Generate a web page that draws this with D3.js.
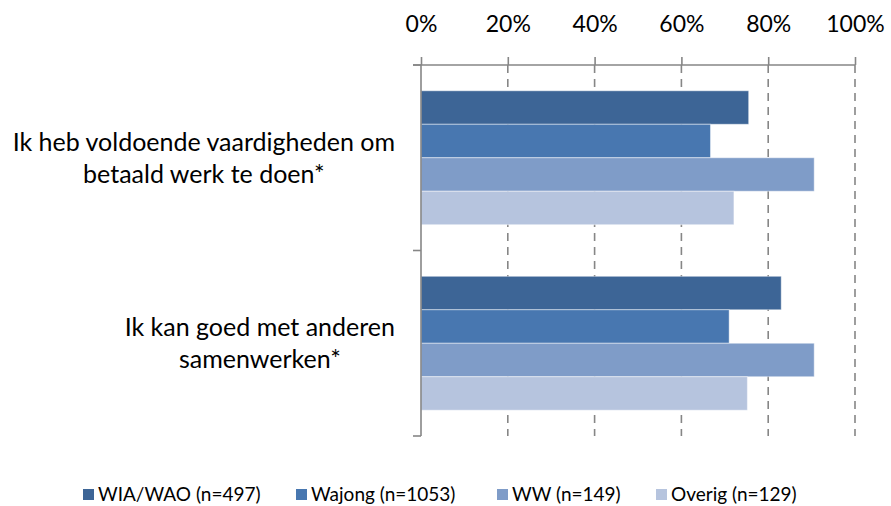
<!DOCTYPE html>
<html>
<head>
<meta charset="utf-8">
<script src="https://cdn.jsdelivr.net/npm/d3@7"></script>
<style>
  html, body { margin: 0; padding: 0; background: #fff; }
  svg { display: block; font-family: Lato, "Open Sans", sans-serif; }
</style>
</head>
<body>
<svg id="chart" width="891" height="506"></svg>
<script>
const categories = [
  ["Ik heb voldoende vaardigheden om", "betaald werk te doen*"],
  ["Ik kan goed met anderen", "samenwerken*"]
];
const seriesNames = ["WIA/WAO (n=497)", "Wajong (n=1053)", "WW (n=149)", "Overig (n=129)"];
const seriesColors = ["#3D6596", "#4877B0", "#7F9CC8", "#B6C4DE"];
const valuesWIA    = [75.5, 83.0];
const valuesWajong = [66.7, 71.0];
const valuesWW     = [90.6, 90.6];
const valuesOverig = [72.1, 75.2];
const tickValues = [0, 20, 40, 60, 80, 100];

const seriesValues = [valuesWIA, valuesWajong, valuesWW, valuesOverig];

(function () {
const svg = d3.select("#chart");
const pLeft = 421, pRight = 855, pTop = 65, pBottom = 436;

const x = d3.scaleLinear().domain([0, 100]).range([pLeft, pRight]);
const y0 = d3.scaleBand().domain(d3.range(categories.length)).range([pTop, pBottom]).padding(0);
const y1 = d3.scaleBand().domain(d3.range(seriesNames.length)).range([0, y0.bandwidth()])
  .paddingInner(0).paddingOuter(0.77);

// gridlines (dashed)
svg.append("g").selectAll("line").data(tickValues.filter(d => d > 0)).join("line")
  .attr("x1", d => x(d)).attr("x2", d => x(d))
  .attr("y1", pTop).attr("y2", pBottom)
  .attr("stroke", "#868686").attr("stroke-width", 1.6)
  .attr("stroke-dasharray", "8,6");

// bars
const groups = svg.append("g").selectAll("g").data(categories).join("g")
  .attr("transform", (d, i) => `translate(0,${y0(i)})`);
groups.selectAll("rect").data((d, i) => seriesValues.map((vals, s) => ({ s, v: vals[i] }))).join("rect")
  .attr("x", x(0))
  .attr("y", d => y1(d.s))
  .attr("width", d => x(d.v) - x(0))
  .attr("height", y1.bandwidth())
  .attr("fill", d => seriesColors[d.s])
  .attr("stroke", "rgba(255,255,255,0.45)")
  .attr("stroke-width", 1);

// top axis
const xAxis = d3.axisTop(x).tickValues(tickValues).tickFormat(d => d + "%").tickSize(8).tickPadding(25);
const gx = svg.append("g").attr("transform", `translate(0,${pTop})`).call(xAxis);
gx.select(".domain").remove();
gx.selectAll(".tick line").attr("stroke", "#868686").attr("stroke-width", 1.6);
gx.selectAll(".tick text").attr("fill", "#000").style("font-size", "23px")
  .style("font-family", "Lato, 'Open Sans', sans-serif");
svg.append("line").attr("x1", 413).attr("x2", pRight).attr("y1", pTop).attr("y2", pTop)
  .attr("stroke", "#868686").attr("stroke-width", 1.6);

// left axis
svg.append("line").attr("x1", pLeft).attr("x2", pLeft).attr("y1", pTop).attr("y2", pBottom)
  .attr("stroke", "#868686").attr("stroke-width", 1.6);
const catTicks = d3.range(categories.length + 1).map(i => i === categories.length ? pBottom : y0(i));
svg.append("g").selectAll("line").data(catTicks).join("line")
  .attr("x1", 413).attr("x2", pLeft).attr("y1", d => d).attr("y2", d => d)
  .attr("stroke", "#868686").attr("stroke-width", 1.6);

// category labels: block right-aligned, lines centred within block
const lineH = 32;
categories.forEach((lines, i) => {
  const g = svg.append("g");
  const texts = g.selectAll("text").data(lines).join("text")
    .style("font-size", "25px").attr("fill", "#000")
    .attr("text-anchor", "middle")
    .text(d => d);
  const maxW = d3.max(texts.nodes(), n => n.getComputedTextLength());
  const cx = 395 - maxW / 2;
  const cy = y0(i) + y0.bandwidth() / 2;
  texts.attr("x", cx)
    .attr("y", (d, j) => cy + (j - (lines.length - 1) / 2) * lineH + 9);
});

// legend
const legendX = [83, 296, 497, 656];
const legend = svg.append("g").selectAll("g").data(seriesNames).join("g")
  .attr("transform", (d, i) => `translate(${legendX[i]},489)`);
legend.append("rect").attr("width", 11).attr("height", 11).attr("fill", (d, i) => seriesColors[i]);
legend.append("text").attr("x", 15).attr("y", 12).style("font-size", "19px").attr("fill", "#000").text(d => d);
})();
</script>
</body>
</html>
